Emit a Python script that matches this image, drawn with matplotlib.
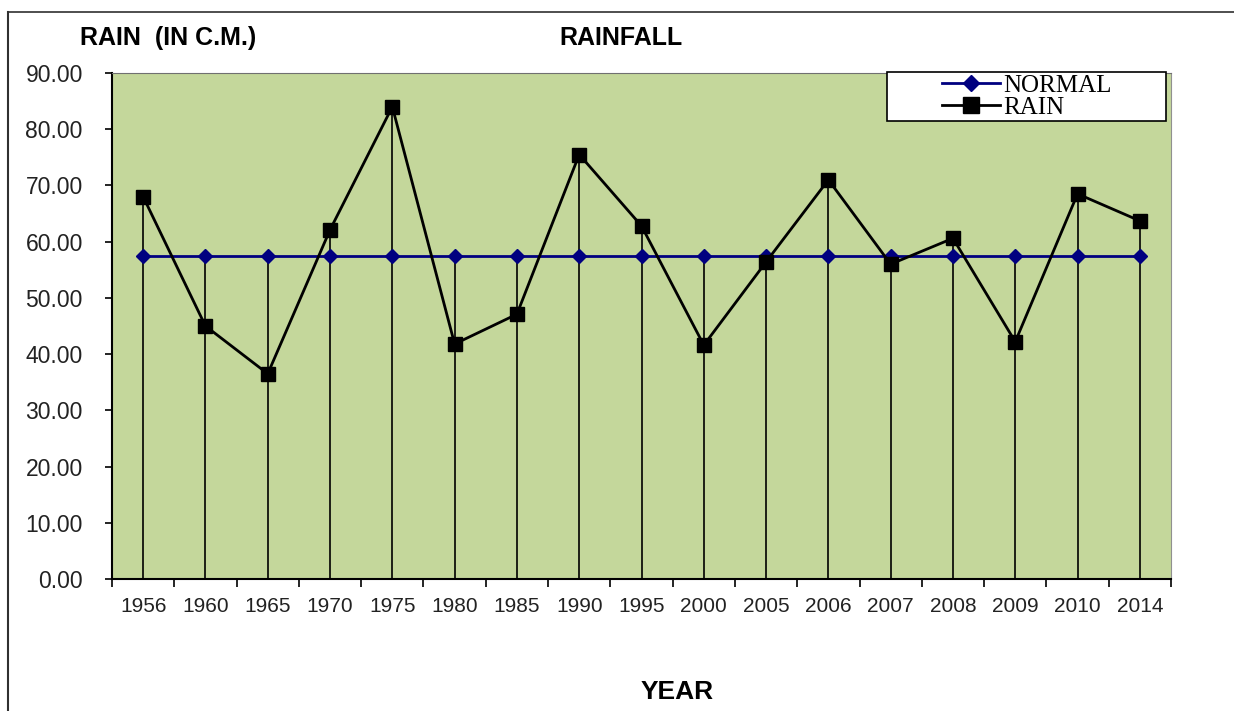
import matplotlib
matplotlib.use("Agg")
import matplotlib.pyplot as plt
from matplotlib.lines import Line2D
from matplotlib.patches import Rectangle
import numpy as np

years = ["1956", "1960", "1965", "1970", "1975", "1980", "1985", "1990", "1995",
         "2000", "2005", "2006", "2007", "2008", "2009", "2010", "2014"]
rain = [68.0, 45.0, 36.5, 62.1, 84.0, 41.8, 47.1, 75.5, 62.8,
        41.6, 56.4, 71.0, 56.0, 60.6, 42.2, 68.5, 63.7]
normal = [57.5] * len(years)
y_ticks = [0, 10, 20, 30, 40, 50, 60, 70, 80, 90]

plt.rcParams['font.family'] = ['Liberation Sans', 'DejaVu Sans']

fig = plt.figure(figsize=(12.34, 7.11), dpi=100)
ax = fig.add_axes([112/1234, 1 - 579/711, (1171-112)/1234, (579-73)/711])
ax.set_facecolor('#C4D79B')

x = np.arange(len(years))
tops = np.maximum(rain, normal)
ax.vlines(x, 0, tops, colors='black', linewidth=1.2, zorder=2)
ax.plot(x, normal, color='#000080', linewidth=2, marker='D', markersize=7,
        markerfacecolor='#000080', markeredgecolor='#000080', label='NORMAL', zorder=3)
ax.plot(x, rain, color='black', linewidth=2, marker='s', markersize=10,
        markerfacecolor='black', markeredgecolor='black', label='RAIN', zorder=4)

ax.set_xlim(-0.5, len(years) - 0.5)
ax.set_ylim(0, 90)
ax.set_yticks(y_ticks)
ax.set_yticklabels([f"{v:.2f}" for v in y_ticks], fontsize=16.5, color='#222222')
ax.set_xticks(np.arange(len(years) + 1) - 0.5)
ax.set_xticklabels([])
ax.set_xticks(x, minor=True)
ax.set_xticklabels(years, minor=True, fontsize=15, color='#222222')
ax.tick_params(axis='x', which='major', direction='out', length=5.5, width=1.2)
ax.tick_params(axis='x', which='minor', length=0, pad=13)
ax.tick_params(axis='y', direction='out', length=5, width=1.2, pad=16)

ax.spines['left'].set_color('black')
ax.spines['bottom'].set_color('black')
ax.spines['left'].set_linewidth(1.5)
ax.spines['bottom'].set_linewidth(1.5)
ax.spines['top'].set_color('#707070')
ax.spines['right'].set_color('#909090')

# legend box
box = Rectangle((887/1234, 1 - 121/711), (1166-887)/1234, 49/711,
                transform=fig.transFigure, facecolor='white',
                edgecolor='black', linewidth=1.2, zorder=5, clip_on=False)
ax.add_patch(box)
leg = ax.legend(loc='center left', bbox_to_anchor=(942/1234, 1 - 96.5/711),
                bbox_transform=fig.transFigure, frameon=False,
                borderpad=0, borderaxespad=0, labelspacing=0.0,
                handlelength=2.3, handletextpad=0.15, markerscale=1.1,
                prop={'family': 'Liberation Serif', 'size': 18})
leg.set_zorder(6)

fig.text(80/1234, 1 - 38/711, "RAIN  (IN C.M.)", fontsize=18, fontweight='bold',
         ha='left', va='center')
fig.text(621/1234, 1 - 38/711, "RAINFALL", fontsize=18, fontweight='bold',
         ha='center', va='center')
fig.text(677/1234, 1 - 692/711, "YEAR", fontsize=19, fontweight='bold',
         ha='center', va='center')

fig.add_artist(Line2D([8/1234, 8/1234], [0, 1 - 12/711], transform=fig.transFigure,
                      color='#303030', linewidth=1.5))
fig.add_artist(Line2D([8/1234, 1], [1 - 12/711, 1 - 12/711], transform=fig.transFigure,
                      color='#303030', linewidth=1.2))

fig.savefig("out.png", dpi=100)
